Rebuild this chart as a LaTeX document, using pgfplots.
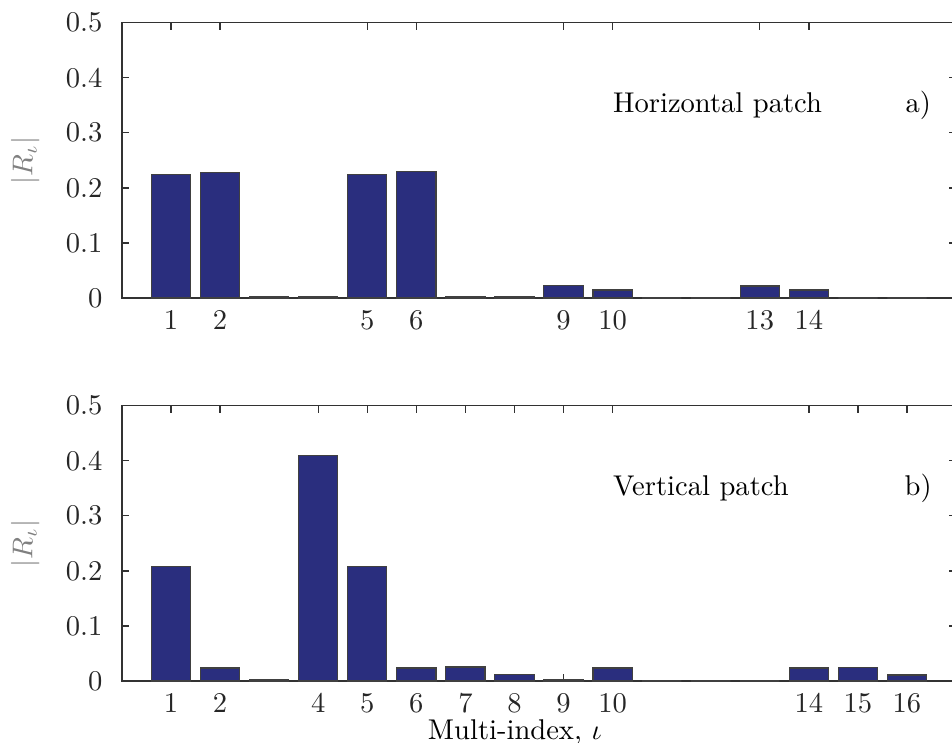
\documentclass[border=0pt]{standalone}
\usepackage{pgfplots}
\pgfplotsset{compat=1.18}
\definecolor{barblue}{RGB}{42,46,126}
\definecolor{axgray}{RGB}{50,50,50}

\pgfplotsset{
  patchbars/.style={
    scale only axis,
    width=291.9pt,
    height=96.4pt,
    xmin=0, xmax=17,
    ymin=0, ymax=0.5,
    ytick={0,0.1,...,0.5},
    yticklabels={0,0.1,0.2,0.3,0.4,0.5},
    tick align=inside,
    major tick length=2.6pt,
    axis line style={axgray, line width=0.6pt},
    every tick/.style={axgray, line width=0.5pt},
    tick label style={text=black!85},
    yticklabel style={xshift=-3.3pt},
    xticklabel style={yshift=-1pt},
    ylabel={$|R_\iota|$},
    ylabel style={gray, at={(axis description cs:-0.116,0.5)}, anchor=center},
    bar width=0.8,
    clip=false,
  },
  patchbar/.style={ybar, bar shift=0pt, fill=barblue, draw=black!75, line width=0.4pt},
}

\begin{document}
\begin{tikzpicture}
\useasboundingbox (-42.7pt,-155.75pt) rectangle (290.5pt,104.3pt);

% a) horizontal patch
\begin{axis}[patchbars, name=top, at={(0,0)}, anchor=south west,
    xtick={1,2,5,6,9,10,13,14}]
\addplot[patchbar] coordinates {
  (1,0.2236) (2,0.2285) (3,0.002) (4,0.002) (5,0.2249) (6,0.2297)
  (7,0.002) (8,0.002) (9,0.0230) (10,0.0145) (11,0) (12,0)
  (13,0.0218) (14,0.0145) (15,0) (16,0)
};
\node[anchor=west, inner sep=0pt] at (axis cs:10,0.35) {Horizontal patch};
\node[inner sep=0pt] at (axis cs:16.23,0.35) {a)};
\end{axis}

% b) vertical patch
\begin{axis}[patchbars, at={(0,-134.05pt)}, anchor=south west,
    xtick={1,2,4,5,6,7,8,9,10,14,15,16},
    xlabel={Multi-index, $\iota$},
    xlabel style={at={(axis description cs:0.471,-0.105)}, anchor=north}]
\addplot[patchbar] coordinates {
  (1,0.2083) (2,0.0236) (3,0.002) (4,0.4090) (5,0.2083) (6,0.0236)
  (7,0.0254) (8,0.0120) (9,0.002) (10,0.0236) (11,0) (12,0) (13,0)
  (14,0.0236) (15,0.0250) (16,0.0110)
};
\node[anchor=west, inner sep=0pt] at (axis cs:10,0.35) {Vertical patch};
\node[inner sep=0pt] at (axis cs:16.23,0.35) {b)};
\end{axis}
\end{tikzpicture}
\end{document}
